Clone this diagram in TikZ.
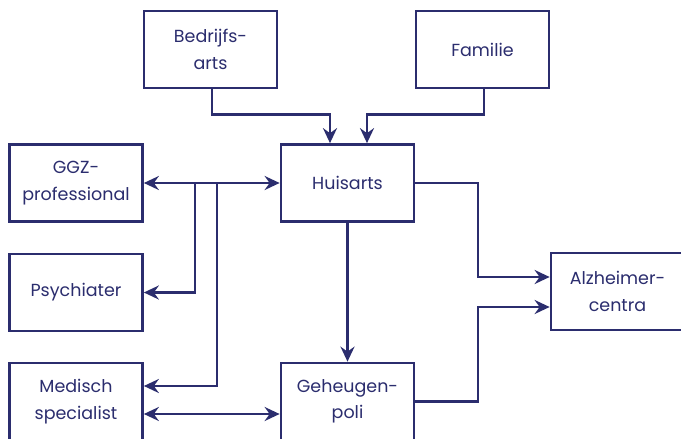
\documentclass[tikz,border=0pt]{standalone}
\usepackage{fontspec}
\setmainfont{Poppins}
\usetikzlibrary{arrows.meta}
\definecolor{navy}{RGB}{43,45,110}
\begin{document}
\begin{tikzpicture}[x=1pt,y=-1pt,
  box/.style={draw=navy,line width=2.7pt,fill=white,minimum width=133pt,minimum height=77pt,
    align=center,text=navy,font=\fontsize{17.5}{26.5}\selectfont,inner sep=0pt},
  conn/.style={draw=navy,line width=2.7pt},
  arr/.style={conn,-{Stealth[length=15pt,width=14pt,inset=5pt]}},
  darr/.style={conn,{Stealth[length=15pt,width=14pt,inset=5pt]}-{Stealth[length=15pt,width=14pt,inset=5pt]}}]
\useasboundingbox (0,0) rectangle (681,439);
\clip (0,0) rectangle (681,439);
\node[box] (B) at (210.5,49.5) {Bedrijfs-\\arts};
\node[box] (F) at (482.5,49.5) {Familie};
\node[box] (H) at (347.5,183) {Huisarts};
\node[box] (G) at (76,183) {GGZ-\\professional};
\node[box] (P) at (76,292.5) {Psychiater};
\node[box] (M) at (76,401.5) {Medisch\\specialist};
\node[box] (Q) at (347.5,401.5) {Geheugen-\\poli};
\node[box] (A) at (617.5,291.5) {Alzheimer-\\centra};
\coordinate (j1) at (195,183);
\coordinate (j2) at (217,183);
\coordinate (jr) at (478,183);
\coordinate (a1) at ([shift={(0,-14.5)}]A.west);
\coordinate (a2) at ([shift={(0,15.5)}]A.west);
\coordinate (m1) at ([shift={(0,-15.5)}]M.east);
\coordinate (m2) at ([shift={(0,12.5)}]M.east);
\coordinate (q2) at ([shift={(0,12.5)}]Q.west);
% top
\draw[arr] ([xshift=1.5pt]B.south) -- ++(0,25) -| ([xshift=-17.5pt]H.north);
\draw[arr] ([xshift=1.5pt]F.south) -- ++(0,25) -| ([xshift=19.5pt]H.north);
% GGZ - Huisarts
\draw[darr] (G.east) -- (H.west);
\draw[arr] (j1) |- (P.east);
\draw[arr] (j2) |- (m1);
\draw[darr] (m2) -- (q2);
% Huisarts - Geheugenpoli
\draw[arr] (H.south) -- (Q.north);
% to Alzheimer
\draw[arr] (H.east) -- (jr) |- (a1);
\draw[arr] (Q.east) -| (jr |- a2) -- (a2);
\end{tikzpicture}
\end{document}
